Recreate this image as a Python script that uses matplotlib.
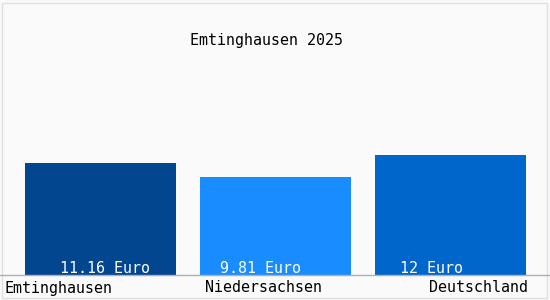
import matplotlib
matplotlib.use('Agg')
from matplotlib import pyplot as plt
from matplotlib.patches import Rectangle

title = 'Emtinghausen 2025'
regions = ['Emtinghausen', 'Niedersachsen', 'Deutschland']
values = [11.16, 9.81, 12.0]
value_labels = ['11.16 Euro', '9.81 Euro', '12 Euro']
colors = ['#02468f', '#198cff', '#0066cc']

W, H = 550, 300
fig = plt.figure(figsize=[W / 100, H / 100], dpi=100)
fig.patch.set_facecolor('#fafafa')
plt.rcParams['font.family'] = ['DejaVu Sans Mono']
fs = 10.8

# axes spans whole width, from the base line (y=275px) to the top
ax = fig.add_axes([0, 25 / H, 1, 275 / H])
ax.set_facecolor('#fafafa')
x = list(range(len(regions)))
ax.bar(x, values, width=151 / 175, color=colors)
ax.set_xlim(-100.5 / 175, (W - 100.5) / 175)
ax.set_ylim(0, 27.5)
ax.axis('off')

# value labels inside bars (left edges, px from bar centre)
label_dx = [-40, -55, -50]
for i, lab in enumerate(value_labels):
    ax.text(i + label_dx[i] / 175, 0.65, lab, color='white', fontsize=fs,
            ha='left', va='center')

# category labels below base line
fig.text(4 / W, 1 - 288 / H, regions[0], fontsize=fs, ha='left', va='center')
fig.text(263 / W, 1 - 288 / H, regions[1], fontsize=fs, ha='center', va='center')
fig.text(528 / W, 1 - 288 / H, regions[2], fontsize=fs, ha='right', va='center')

fig.text(266 / W, 1 - 40 / H, title, fontsize=fs, ha='center', va='center')

# base line and thin frame
fig.add_artist(plt.Line2D([0, 1], [25 / H, 25 / H], color='#b0b0b0', lw=1))
fig.add_artist(Rectangle((2 / W, 2 / H), (W - 5) / W, (H - 5) / H, fill=False,
                         edgecolor='#e0e0e0', lw=1, transform=fig.transFigure))

fig.savefig('out.png', dpi=100, facecolor=fig.get_facecolor())
